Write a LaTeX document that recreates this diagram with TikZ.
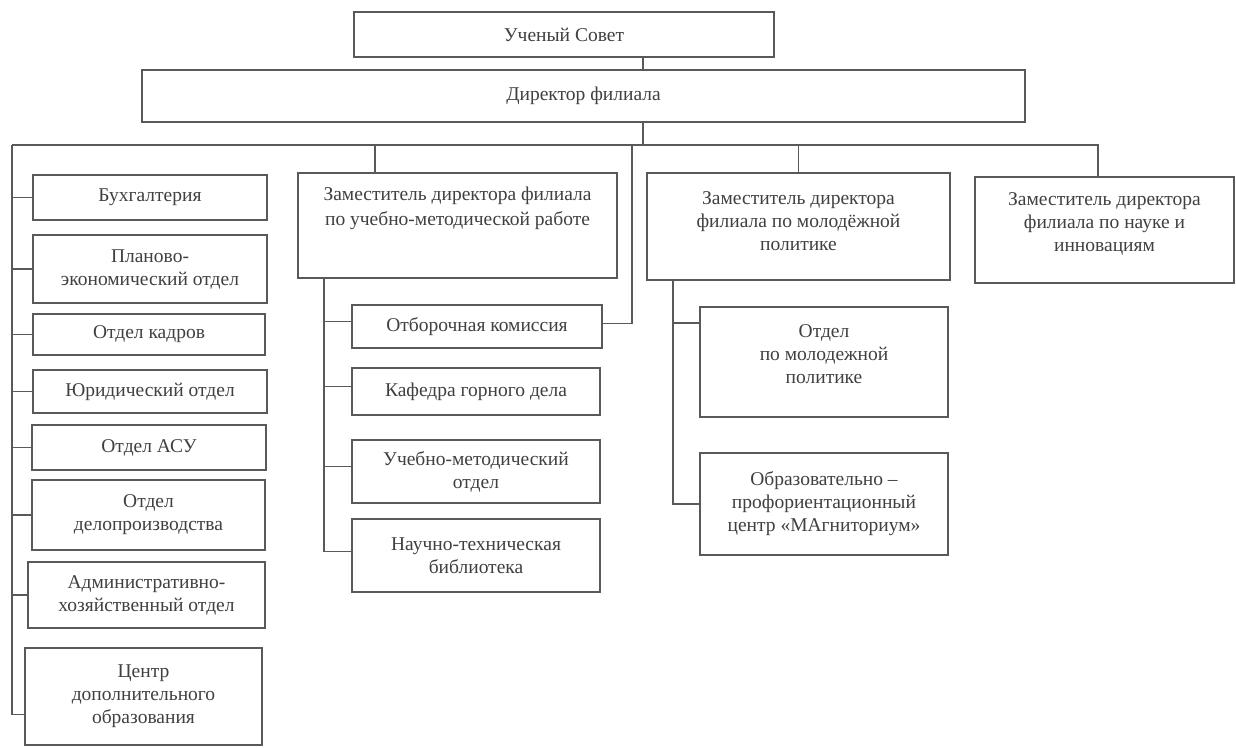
\documentclass[tikz,border=0pt]{standalone}
\usepackage{fontspec}
\setmainfont{Liberation Serif}
\begin{document}
\begin{tikzpicture}[x=1pt, y=-1pt,
  box/.style={draw=black!65, line width=1.1pt, align=center, inner sep=2pt,
    text=black!75, font=\fontsize{19.5}{23}\selectfont},
  link/.style={draw=black!65, line width=1.1pt}]

  \useasboundingbox[fill=white] (0,0) rectangle (1236,747);

  % ── top levels ──
  \node[box, minimum width=420pt, minimum height=45pt] (council) at (564,34.5) {Ученый Совет};
  \node[box, minimum width=883pt, minimum height=52pt] (director) at (583.5,96) {Директор филиала};

  % ── deputies ──
  \node[box, minimum width=319pt, minimum height=105pt] (dep1) at (457.5,225.5)
    {Заместитель директора филиала\\[2pt]по учебно-методической работе\\[16pt]~};
  \node[box, minimum width=303pt, minimum height=107pt] (dep2) at (798.5,226.5)
    {Заместитель директора\\филиала по молодёжной\\политике\\[-12pt]~};
  \node[box, minimum width=259pt, minimum height=106pt] (dep3) at (1104.5,230)
    {Заместитель директора\\филиала по науке и\\инновациям\\[-7pt]~};

  % ── left column ──
  \node[box, minimum width=234pt, minimum height=45pt] (buh)  at (150,197.5) {Бухгалтерия};
  \node[box, minimum width=234pt, minimum height=68pt] (plan) at (150,269) {Планово-\\экономический отдел};
  \node[box, minimum width=232pt, minimum height=41pt] (kadr) at (149,334.5) {Отдел кадров};
  \node[box, minimum width=234pt, minimum height=43pt] (yur)  at (150,391.5) {Юридический отдел};
  \node[box, minimum width=234pt, minimum height=45pt] (asu)  at (149,447.5) {Отдел АСУ};
  \node[box, minimum width=233pt, minimum height=70pt] (delo) at (148.5,515) {Отдел\\делопроизводства};
  \node[box, minimum width=237pt, minimum height=66pt] (ahoz) at (146.5,595) {Административно-\\хозяйственный отдел};
  \node[box, minimum width=237pt, minimum height=97pt] (cdo)  at (143.5,696.5)
    {Центр\\дополнительного\\образования};

  % ── under dep1 ──
  \node[box, minimum width=250pt, minimum height=43pt] (otb) at (477,326.5) {Отборочная комиссия};
  \node[box, minimum width=248pt, minimum height=47pt] (kaf) at (476,391.5) {Кафедра горного дела};
  \node[box, minimum width=248pt, minimum height=63pt] (umo) at (476,471.5) {Учебно-методический\\отдел};
  \node[box, minimum width=248pt, minimum height=73pt] (ntb) at (476,555.5) {Научно-техническая\\библиотека};

  % ── under dep2 ──
  \node[box, minimum width=248pt, minimum height=110pt] (omp) at (824,362)
    {Отдел\\по молодежной\\политике\\[-8pt]~};
  \node[box, minimum width=248pt, minimum height=102pt] (ofc) at (824,504)
    {Образовательно –\\профориентационный\\центр «МАгниториум»};

  % ── connectors ──
  \coordinate (busTop) at (643,145);
  \coordinate (busW) at (12,145);
  \coordinate (busE) at (1098,145);
  \coordinate (d1) at (375,145);
  \coordinate (otbTap) at (632,145);
  \coordinate (sub1) at ([xshift=-133.5pt]dep1.south);
  \coordinate (sub2) at ([xshift=-125.5pt]dep2.south);

  \draw[link] (council.south -| busTop) -- (director.north -| busTop);
  \draw[link] (director.south -| busTop) -- (busTop);
  \draw[link] (busW) -- (busE) -- (dep3.north -| busE);
  \draw[link] (d1) -- (d1 |- dep1.north);
  \draw[link] (dep2.north |- busW) -- (dep2.north);
  \draw[link] (otbTap) |- ([yshift=3pt]otb.east);

  \draw[link] (busW) |- ([yshift=-18pt]cdo.west);
  \foreach \n in {buh,plan,kadr,yur,asu,delo,ahoz}
    \draw[link] (busW |- \n.west) -- (\n.west);

  \draw[link] (sub1) |- ([yshift=4pt]ntb.west);
  \foreach \n in {otb,kaf,umo}
    \draw[link] (sub1 |- \n.west) ++(0,-5) -- ([yshift=5pt]\n.west);

  \draw[link] (sub2) |- (ofc.west);
  \draw[link] (sub2 |- omp.west) ++(0,-39) -- ([yshift=39pt]omp.west);

\end{tikzpicture}
\end{document}
